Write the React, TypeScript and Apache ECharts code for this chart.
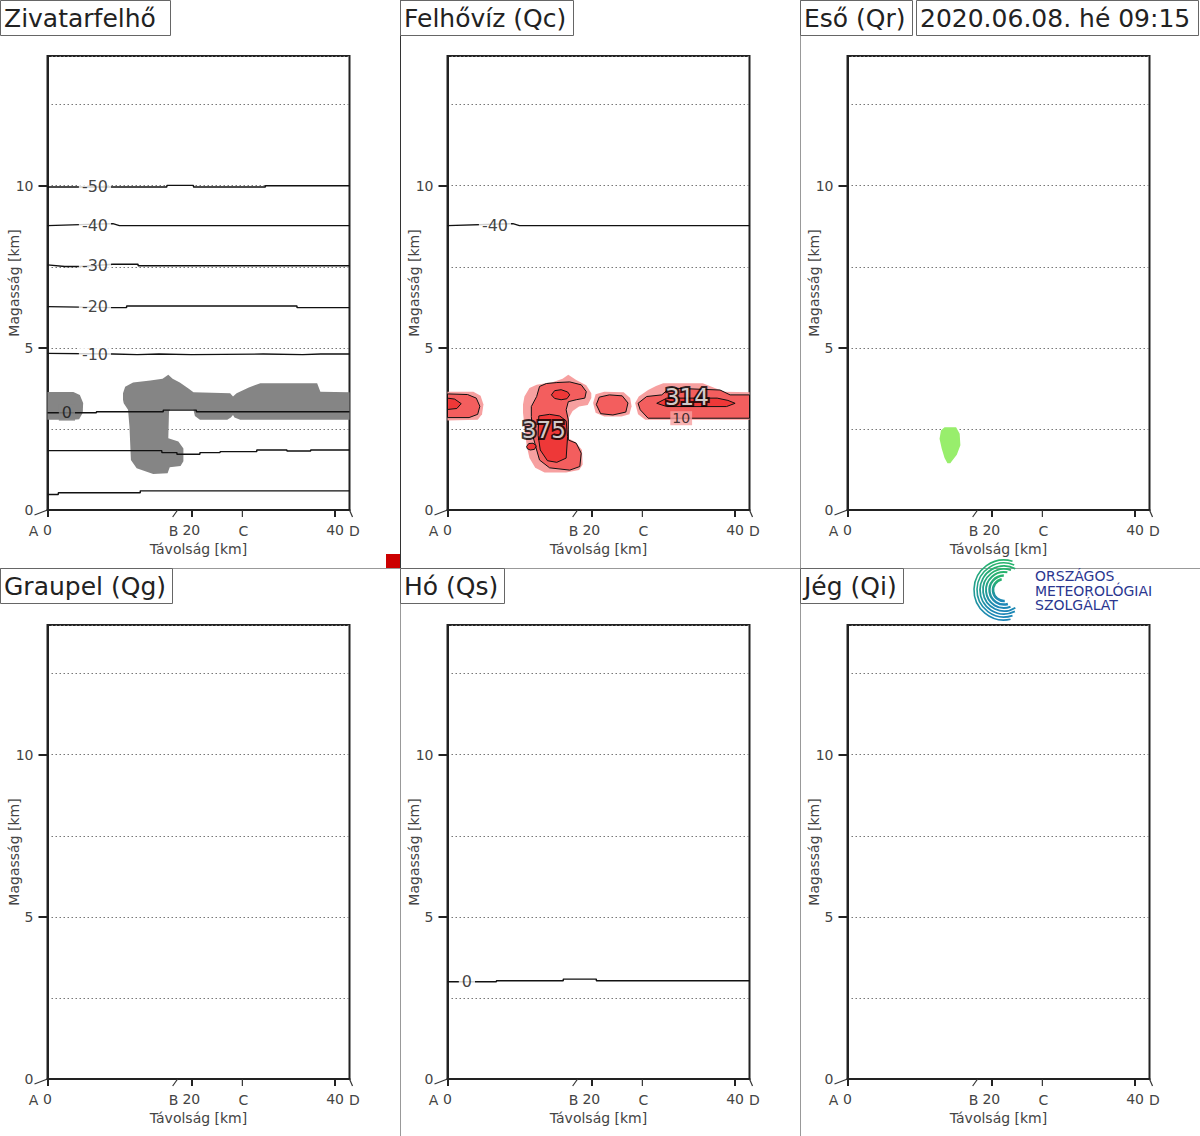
import React, { useEffect, useRef } from "react";
import * as echarts from "echarts";

// ---------- axes ----------
const X_MIN = 0;
const X_MAX = 42;
const Y_MIN = 0;
const Y_MAX = 14;
const xTickValues = [0, 20, 40];
const yLabelValues = [0, 5, 10];
const yTickValues = [5, 10];
const yGridStep = 2.5;

// cross-section points along the distance axis (km)
const sectionPoints = [
  { name: "A", km: 0 },
  { name: "B", km: 18.1 },
  { name: "C", km: 27.1 },
  { name: "D", km: 42 },
];

const panelTitles = ["Zivatarfelhő", "Felhővíz (Qc)", "Eső (Qr)", "Graupel (Qg)", "Hó (Qs)", "Jég (Qi)"];
const timeStamp = "2020.06.08. hé 09:15";
const logoLines = ["ORSZÁGOS", "METEOROLÓGIAI", "SZOLGÁLAT"];

// ---------- isotherms (km, km) ----------
const isoM50 = [[0, 9.96], [16.6, 9.96], [16.6, 10.01], [20.3, 10.01], [20.3, 9.96], [30.3, 9.96], [30.3, 10.0], [42, 10.0]];
const isoM40 = [[0, 8.77], [9.1, 8.83], [10.0, 8.77], [42, 8.77]];
const isoM30 = [[0, 7.56], [2.4, 7.51], [4.5, 7.51], [9.1, 7.58], [12.6, 7.58], [12.6, 7.53], [42, 7.53]];
const isoM20 = [[0, 6.27], [9.1, 6.24], [11.0, 6.24], [11.0, 6.29], [34.7, 6.29], [34.7, 6.24], [42, 6.24]];
const isoM10 = [[0, 4.83], [9.1, 4.81], [12.5, 4.79], [15.5, 4.81], [20.0, 4.79], [30.0, 4.81], [35.5, 4.79], [38, 4.81], [42, 4.81]];
const iso0 = [[0, 3.0], [6.8, 3.0], [6.8, 3.03], [16.1, 3.03], [16.1, 3.08], [20.7, 3.08], [20.7, 3.03], [42, 3.03]];
const isoP10 = [[0, 1.83], [15.9, 1.83], [15.9, 1.77], [18.0, 1.77], [18.0, 1.72], [21.2, 1.72], [21.2, 1.77], [24.0, 1.77], [24.0, 1.8], [29.1, 1.8], [29.1, 1.85], [33.3, 1.85], [33.3, 1.82], [36.6, 1.82], [36.6, 1.85], [42, 1.85]];
const isoP20 = [[0, 0.48], [1.5, 0.48], [1.5, 0.53], [12.9, 0.53], [12.9, 0.59], [42, 0.59]];

const isoLabelsPanel1 = [
  { text: "-50", x: 6.6, y: 9.97 },
  { text: "-40", x: 6.6, y: 8.77 },
  { text: "-30", x: 6.6, y: 7.53 },
  { text: "-20", x: 6.6, y: 6.26 },
  { text: "-10", x: 6.6, y: 4.8 },
];
const zeroLabel = { text: "0", x: 2.7, y: 3.0 };
const isoLabelsPanel2 = [{ text: "-40", x: 6.6, y: 8.77 }];

// ---------- cloud outline (panel 1) ----------
const cloudLeft = [[0, 3.64], [3.6, 3.64], [4.5, 3.55], [4.96, 3.3], [4.9, 3.0], [4.4, 2.8], [3.6, 2.78], [0, 2.78]];
const cloudMain = [
  [10.5, 3.6], [10.8, 3.8], [11.9, 3.93], [14.3, 3.99], [16.0, 4.05], [16.8, 4.17], [17.4, 4.05], [18.4, 3.93],
  [19.6, 3.75], [20.3, 3.63], [25.4, 3.6], [25.8, 3.5], [26.3, 3.6], [28.0, 3.78], [29.6, 3.91], [37.5, 3.91],
  [37.95, 3.65], [42, 3.63], [42, 2.78], [26.8, 2.78], [26.0, 2.85], [25.8, 2.93], [25.5, 2.85], [25.0, 2.78],
  [21.2, 2.78], [20.5, 2.9], [20.3, 3.09], [17.05, 3.09], [16.9, 3.04], [16.8, 2.21], [18.2, 2.11], [18.9, 1.9],
  [18.9, 1.5], [18.5, 1.36], [17.0, 1.32], [16.7, 1.13], [14.7, 1.11], [12.4, 1.29], [11.6, 1.54], [11.4, 2.57],
  [11.2, 3.09], [10.6, 3.29], [10.5, 3.4],
];

// ---------- cloud water (panel 2) ----------
const qcFill1 = [[0, 3.65], [3.6, 3.65], [4.6, 3.52], [5.0, 3.25], [4.8, 2.95], [4.2, 2.78], [0, 2.76]];
const qcFill2 = [
  [10.5, 3.25], [10.7, 3.5], [11.4, 3.76], [12.4, 3.86], [14.7, 3.95], [16.0, 4.05], [16.8, 4.17], [17.9, 4.01],
  [19.3, 3.85], [20.0, 3.6], [20.0, 3.45], [19.5, 3.24], [18.3, 3.19], [17.4, 3.05], [16.9, 2.85], [16.9, 2.2],
  [17.8, 2.1], [18.7, 1.85], [18.8, 1.4], [18.3, 1.23], [16.5, 1.16], [13.5, 1.16], [12.2, 1.3], [11.4, 1.6],
  [11.0, 2.0], [10.7, 2.6], [10.5, 3.0],
];
const qcFill3 = [[20.25, 3.3], [20.6, 3.57], [21.8, 3.65], [24.5, 3.63], [25.4, 3.45], [25.6, 3.2], [25.3, 2.95], [24.2, 2.88], [21.8, 2.88], [20.6, 3.0]];
const qcFill4 = [[26.1, 3.3], [26.6, 3.5], [27.9, 3.7], [29.0, 3.82], [30.0, 3.91], [35.5, 3.91], [37.0, 3.78], [38.5, 3.65], [42, 3.63], [42, 2.78], [27.5, 2.78], [26.5, 2.95]];
const qcOuter1 = [[0, 3.58], [2.8, 3.56], [4.0, 3.45], [4.5, 3.2], [4.2, 2.95], [3.0, 2.85], [0, 2.85]];
const qcOuter2 = [
  [12.8, 3.81], [13.75, 3.9], [15.2, 3.93], [17.0, 3.95], [18.6, 3.86], [19.3, 3.65], [19.1, 3.45], [17.9, 3.4],
  [16.8, 3.34], [16.5, 3.09], [16.8, 2.78], [16.8, 2.16], [17.9, 2.06], [18.6, 1.75], [18.4, 1.34], [17.0, 1.23],
  [14.2, 1.3], [12.8, 1.54], [12.4, 1.85], [11.9, 2.26], [11.66, 2.88], [11.66, 3.19], [12.4, 3.5],
];
const qcOuter3 = [[20.7, 3.25], [21.1, 3.48], [22.5, 3.55], [24.3, 3.52], [25.1, 3.3], [24.8, 3.02], [23.0, 2.93], [21.3, 2.97]];
const qcOuter4 = [[26.5, 3.29], [27.7, 3.5], [29.8, 3.55], [30.9, 3.76], [37.9, 3.7], [39.3, 3.55], [42, 3.55], [42, 2.83], [27.9, 2.83], [26.8, 3.09]];
const qcInner1 = [[0, 3.45], [1.0, 3.42], [1.9, 3.28], [1.3, 3.13], [0, 3.1]];
const qcInner2a = [[14.45, 3.55], [14.9, 3.68], [15.8, 3.71], [16.7, 3.64], [17.0, 3.55], [16.6, 3.43], [15.8, 3.4], [14.9, 3.44]];
const qcInner2b = [[12.7, 2.9], [14.2, 2.95], [15.6, 2.9], [16.5, 2.75], [16.7, 2.26], [16.5, 1.6], [15.2, 1.47], [13.9, 1.52], [12.9, 1.85], [12.6, 2.3]];
const qcInner2c = [[11.0, 1.96], [11.3, 2.05], [11.9, 2.06], [12.35, 1.98], [12.1, 1.87], [11.5, 1.85], [11.1, 1.89]];
const qcInner4 = [[29.1, 3.29], [30.5, 3.45], [37.5, 3.45], [39.0, 3.38], [40.0, 3.29], [38.8, 3.19], [30.5, 3.19]];
const qcMaxLabels = [
  { text: "375", x: 13.4, y: 2.47 },
  { text: "314", x: 33.3, y: 3.49 },
];
const qcContourLabels = [{ text: "10", x: 32.5, y: 2.83 }];

// ---------- rain (panel 3) ----------
const qrFill = [[13.5, 2.55], [15.1, 2.55], [15.6, 2.35], [15.7, 2.0], [15.2, 1.7], [14.5, 1.5], [14.3, 1.44], [13.9, 1.44], [13.5, 1.6], [13.1, 1.9], [12.8, 2.2], [13.0, 2.45]];

// ---------- styles ----------
const FONT = "'DejaVu Sans', 'Noto Sans', sans-serif";
const markerStyle: Record<string, { slant: number[]; textDx: number }> = {
  A: { slant: [-13, 5], textDx: -14 },
  B: { slant: [-5, 7], textDx: -4 },
  C: { slant: [0, 7], textDx: 1 },
  D: { slant: [3, 7], textDx: 5 },
};
const PALE = "#f7a0a0";
const MID = "#f35e5e";
const DEEP = "#ee3838";
const GRAY = "#858585";

function polySeries(grid: number, shapes: { pts: number[][]; fill: string; stroke?: string; lw?: number }[], z: number) {
  return {
    type: "custom",
    xAxisIndex: grid,
    yAxisIndex: grid,
    z,
    silent: true,
    data: shapes.map((_, i) => [i, 0]),
    renderItem: (params: any, api: any) => {
      const s = shapes[params.dataIndex];
      return {
        type: "polygon",
        shape: { points: s.pts.map((p) => api.coord(p)) },
        style: { fill: s.fill, stroke: s.stroke || "none", lineWidth: s.lw || 0 },
      };
    },
  };
}

function lineSeries(grid: number, pts: number[][]) {
  return {
    type: "line",
    xAxisIndex: grid,
    yAxisIndex: grid,
    data: pts,
    showSymbol: false,
    symbol: "none",
    silent: true,
    z: 4,
    lineStyle: { color: "#111", width: 1.4 },
  };
}

function labelSeries(grid: number, labels: { text: string; x: number; y: number }[], label: any) {
  return {
    type: "scatter",
    xAxisIndex: grid,
    yAxisIndex: grid,
    symbolSize: 1,
    silent: true,
    z: 6,
    itemStyle: { color: "rgba(0,0,0,0)" },
    data: labels.map((l) => ({ value: [l.x, l.y], name: l.text })),
    label: { show: true, position: "inside", formatter: "{b}", fontFamily: FONT, ...label },
  };
}

function markerSeries(grid: number) {
  return {
    type: "custom",
    xAxisIndex: grid,
    yAxisIndex: grid,
    z: 8,
    silent: true,
    clip: false,
    data: sectionPoints.map((p) => [p.km, 0]),
    renderItem: (params: any, api: any) => {
      const m = sectionPoints[params.dataIndex];
      const st = markerStyle[m.name];
      const [px, py] = api.coord([m.km, 0]);
      return {
        type: "group",
        children: [
          { type: "line", shape: { x1: px, y1: py, x2: px + st.slant[0], y2: py + st.slant[1] }, style: { stroke: "#333", lineWidth: 1.2 } },
          {
            type: "text",
            x: px + st.textDx,
            y: py + 21,
            style: { text: m.name, align: "center", verticalAlign: "middle", fill: "#444", fontSize: 14, fontFamily: FONT },
          },
        ],
      };
    },
  };
}

function buildOption() {
  const grids: any[] = [];
  const xAxes: any[] = [];
  const yAxes: any[] = [];
  const helperY: any[] = [];
  for (let i = 0; i < 6; i++) {
    const col = i % 3;
    const row = Math.floor(i / 3);
    grids.push({
      left: 47.5 + 400 * col,
      top: 56 + 569 * row,
      width: 302,
      height: 454,
      show: true,
      borderColor: "#222",
      borderWidth: 2,
      backgroundColor: "rgba(0,0,0,0)",
      containLabel: false,
      outerBoundsMode: "none",
    });
    const axisLine = { show: true, onZero: false, lineStyle: { color: "#222", width: 2 } };
    const labelStyle = { fontSize: 14, color: "#444", fontFamily: FONT };
    xAxes.push({
      type: "value",
      gridIndex: i,
      min: X_MIN,
      max: X_MAX,
      interval: 20,
      axisLine,
      axisTick: { show: true, customValues: xTickValues, length: 7, lineStyle: { color: "#222", width: 2 } },
      axisLabel: { customValues: xTickValues, margin: 13, ...labelStyle },
      splitLine: { show: false },
      name: "Távolság [km]",
      nameLocation: "middle",
      nameGap: 32,
      nameTextStyle: labelStyle,
    });
    yAxes.push({
      type: "value",
      gridIndex: i,
      min: Y_MIN,
      max: Y_MAX,
      interval: 5,
      position: "left",
      axisLine,
      axisTick: { show: true, customValues: yTickValues, length: 9, lineStyle: { color: "#222", width: 2 } },
      axisLabel: { customValues: yLabelValues, margin: 14, ...labelStyle },
      splitLine: { show: false },
      name: "Magasság [km]",
      nameLocation: "middle",
      nameGap: 27,
      nameMoveOverlap: false,
      nameTextStyle: labelStyle,
    });
    // helper axis carrying the dotted horizontal grid lines
    helperY.push({
      type: "value",
      gridIndex: i,
      min: Y_MIN,
      max: Y_MAX,
      interval: yGridStep,
      position: "left",
      axisLine: { show: false },
      axisTick: { show: false },
      axisLabel: { show: false },
      splitLine: { show: true, lineStyle: { type: [1.5, 2.5], color: "#777", width: 1 } },
    });
  }

  const isoLabelStyle = { color: "#111", fontSize: 16, backgroundColor: "#fff", padding: [0, 3] };

  const series: any[] = [
    // panel 1: thunderstorm cloud
    polySeries(0, [{ pts: cloudLeft, fill: GRAY }, { pts: cloudMain, fill: GRAY }], 2),
    ...[isoM50, isoM40, isoM30, isoM20, isoM10, iso0, isoP10, isoP20].map((p) => lineSeries(0, p)),
    labelSeries(0, isoLabelsPanel1, isoLabelStyle),
    labelSeries(0, [zeroLabel], { ...isoLabelStyle, backgroundColor: GRAY }),
    // panel 2: cloud water
    polySeries(
      1,
      [
        { pts: qcFill1, fill: PALE },
        { pts: qcFill2, fill: PALE },
        { pts: qcFill3, fill: PALE },
        { pts: qcFill4, fill: PALE },
        { pts: qcOuter1, fill: MID, stroke: "#111", lw: 1 },
        { pts: qcOuter2, fill: MID, stroke: "#111", lw: 1 },
        { pts: qcOuter3, fill: MID, stroke: "#111", lw: 1 },
        { pts: qcOuter4, fill: MID, stroke: "#111", lw: 1 },
        { pts: qcInner1, fill: DEEP, stroke: "#111", lw: 1 },
        { pts: qcInner2a, fill: DEEP, stroke: "#111", lw: 1 },
        { pts: qcInner2b, fill: DEEP, stroke: "#111", lw: 1 },
        { pts: qcInner2c, fill: DEEP, stroke: "#111", lw: 1 },
        { pts: qcInner4, fill: DEEP, stroke: "#111", lw: 1 },
      ],
      2
    ),
    lineSeries(1, isoM40),
    labelSeries(1, isoLabelsPanel2, isoLabelStyle),
    labelSeries(1, qcContourLabels, { color: "#111", fontSize: 14, backgroundColor: PALE, padding: [0, 2] }),
    labelSeries(1, qcMaxLabels, { color: "#fff", fontSize: 23, textBorderColor: "#000", textBorderWidth: 4 }),
    // panel 3: rain
    polySeries(2, [{ pts: qrFill, fill: "#98ee6c" }], 2),
    // panel 5: snow
    lineSeries(4, iso0),
    labelSeries(4, [zeroLabel], isoLabelStyle),
  ];
  for (let i = 0; i < 6; i++) series.push(markerSeries(i));

  // ---------- graphics: titles, separators, logo ----------
  const titleBoxes = [
    { x: 0.5, y: 0.5, w: 170, text: panelTitles[0] },
    { x: 400.5, y: 0.5, w: 173, text: panelTitles[1] },
    { x: 800.5, y: 0.5, w: 112, text: panelTitles[2] },
    { x: 916.5, y: 0.5, w: 282, text: timeStamp },
    { x: 0.5, y: 568.5, w: 172, text: panelTitles[3] },
    { x: 400.5, y: 568.5, w: 104, text: panelTitles[4] },
    { x: 800.5, y: 568.5, w: 103, text: panelTitles[5] },
  ];
  const graphic: any[] = [
    { type: "line", shape: { x1: 400.5, y1: 0, x2: 400.5, y2: 568 }, style: { stroke: "#333", lineWidth: 1 }, z: 0 },
    { type: "line", shape: { x1: 400.5, y1: 568, x2: 400.5, y2: 1136 }, style: { stroke: "#999", lineWidth: 1 }, z: 0 },
    { type: "line", shape: { x1: 800.5, y1: 0, x2: 800.5, y2: 1136 }, style: { stroke: "#999", lineWidth: 1 }, z: 0 },
    { type: "line", shape: { x1: 0, y1: 568.5, x2: 1200, y2: 568.5 }, style: { stroke: "#999", lineWidth: 1 }, z: 0 },
    { type: "rect", shape: { x: 386, y: 554, width: 14, height: 14 }, style: { fill: "#cc0000" }, z: 10 },
  ];
  titleBoxes.forEach((b) => {
    graphic.push({ type: "rect", shape: { x: b.x, y: b.y, width: b.w, height: 35 }, style: { fill: "#fff", stroke: "#666", lineWidth: 1 }, z: 10 });
    graphic.push({
      type: "text",
      x: b.x + 3.5,
      y: b.y + 18,
      z: 11,
      style: { text: b.text, fill: "#222", fontSize: 25, fontFamily: FONT, align: "left", verticalAlign: "middle" },
    });
  });
  // logo swirl
  const grad = (a: string, b: string) => ({
    type: "linear", x: 0, y: 0, x2: 0, y2: 1,
    colorStops: [{ offset: 0, color: a }, { offset: 1, color: b }],
  });
  const arcs = [
    { r: 30, s: 1.35, e: 5.0, w: 1.6 },
    { r: 27, s: 1.25, e: 5.1, w: 1.6 },
    { r: 24, s: 1.1, e: 5.2, w: 1.8 },
    { r: 21, s: 1.0, e: 5.05, w: 1.8 },
    { r: 18, s: 1.2, e: 4.9, w: 2.0 },
    { r: 14.5, s: 1.3, e: 4.7, w: 2.4 },
    { r: 11, s: 1.5, e: 4.5, w: 2.6 },
  ];
  arcs.forEach((a) => {
    graphic.push({
      type: "arc",
      z: 12,
      shape: { cx: 1004, cy: 590, r: a.r, startAngle: a.s, endAngle: a.e, clockwise: true },
      style: { stroke: grad("#27b36c", "#1d86b8"), lineWidth: a.w, fill: "none" },
    });
  });
  logoLines.forEach((t, i) => {
    graphic.push({
      type: "text",
      x: 1035,
      y: 576 + i * 14.5,
      z: 12,
      style: { text: t, fill: "#2a3690", fontSize: 14, fontFamily: FONT, align: "left", verticalAlign: "middle" },
    });
  });

  return {
    animation: false,
    backgroundColor: "#fff",
    grid: grids,
    xAxis: xAxes,
    yAxis: [...yAxes, ...helperY],
    series,
    graphic,
  };
}

export default function App() {
  const ref = useRef<HTMLDivElement>(null);
  useEffect(() => {
    document.body.style.margin = "0";
    if (!ref.current) return;
    const chart = echarts.init(ref.current, undefined, { renderer: "svg" });
    chart.setOption(buildOption() as any);
    return () => chart.dispose();
  }, []);
  return <div ref={ref} style={{ width: 1200, height: 1136 }} />;
}
